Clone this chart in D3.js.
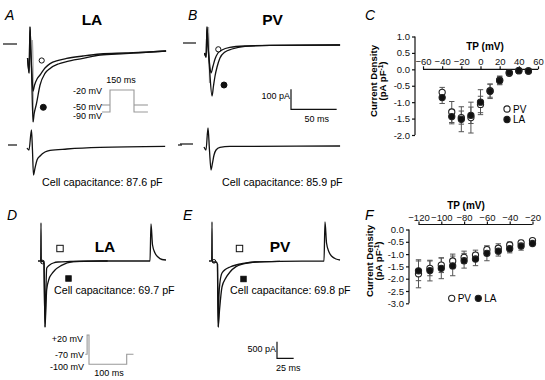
<!DOCTYPE html>
<html>
<head>
<meta charset="utf-8">
<script src="https://cdn.jsdelivr.net/npm/d3@7"></script>
<style>
  body { margin: 0; background: #fff; }
  svg { display: block; font-family: "Liberation Sans", Arial, sans-serif; }
  .narrow { font-family: "Liberation Sans Narrow", "Liberation Sans", Arial, sans-serif; }
</style>
</head>
<body>
<div id="container"></div>
<script>
/* CONSTANTS AND GLOBALS */
const width = 545, height = 380;

/* DATA */
// panel C: I-V, step potential (mV) vs current density (pA/pF)
const tpC = [-40, -30, -20, -10, 0, 10, 20, 30, 40, 50];
const pvC = [-0.70, -1.30, -1.47, -1.47, -1.07, -0.65, -0.33, -0.12, -0.04, -0.05];
const pvCsem = [0.15, 0.32, 0.20, 0.47, 0.25, 0.20, 0.12, 0.05, 0.03, 0.03];
const laC = [-0.86, -1.44, -1.52, -1.40, -1.00, -0.67, -0.34, -0.10, -0.04, -0.05];
const laCsem = [0.18, 0.22, 0.38, 0.25, 0.38, 0.22, 0.13, 0.05, 0.03, 0.03];
const ticksCx = [-60, -40, -20, 0, 20, 40, 60];
const ticksCy = [1.0, 0.5, 0.0, -0.5, -1.0, -1.5, -2.0];

// panel F
const tpF = [-120, -110, -100, -90, -80, -70, -60, -50, -40, -30, -20];
const pvF = [-1.80, -1.58, -1.45, -1.28, -1.13, -1.04, -0.82, -0.76, -0.63, -0.54, -0.45];
const pvFsem = [0.57, 0.30, 0.30, 0.28, 0.25, 0.20, 0.15, 0.18, 0.12, 0.10, 0.05];
const laF = [-1.68, -1.67, -1.58, -1.48, -1.27, -1.20, -0.97, -0.88, -0.78, -0.67, -0.57];
const laFsem = [0.40, 0.42, 0.42, 0.40, 0.30, 0.27, 0.30, 0.20, 0.17, 0.17, 0.06];
const ticksFx = [-120, -100, -80, -60, -40, -20];
const ticksFy = [0.0, -0.5, -1.0, -1.5, -2.0, -2.5, -3.0];

// current traces, [time (ms), current (pA)]
const traceAopen = [[-2.7,-70],[-1,-145],[0,85],[0.9,-30],[1.8,-120],[3.3,-235],[5,-205],[7.7,-175],[11,-155],[16.4,-120],[22,-98],[31,-82],[40,-72],[58,-60],[77,-50],[104,-45],[131,-40],[149,-35]];
const traceAfill = [[-2.7,-70],[-1,-145],[0,85],[0.9,-30],[1.8,-150],[3.3,-390],[4.5,-350],[7,-300],[11,-205],[16.4,-147],[22,-122],[31,-100],[40,-88],[58,-72],[77,-55],[104,-48],[131,-40],[149,-35]];
const traceAgray = [[2.5,20],[3.3,-100],[3.6,-390]];
const traceAdiff = [[-3.3,-15],[-1.1,-25],[1.6,75],[2.7,-25],[3.8,-150],[5.5,-115],[7.7,-75],[11,-55],[16.4,-35],[22,-27],[40.5,-20],[76.7,-12],[148,-7]];
const traceBopen = [[-2.7,-50],[-1,-70],[0,80],[1.2,-20],[2.5,-90],[4.4,-150],[6.6,-115],[8.8,-80],[12,-50],[16.4,-35],[25,-22],[41.6,-15],[69,-12],[145.7,-10]];
const traceBfill = [[-2.7,-50],[-1,-70],[0,80],[1.2,-20],[2.8,-130],[5.5,-265],[7.1,-215],[8.8,-165],[11,-120],[14.2,-75],[19.7,-45],[27.4,-30],[41.6,-17],[69,-12],[145.7,-10]];
const traceBgray = [[1.6,80],[2.4,-60],[2.8,-200]];
const traceBdiff = [[-3.3,-15],[-1.1,-30],[1.1,80],[2.7,-30],[4.4,-130],[6,-95],[7.7,-55],[9.9,-30],[14.2,-17],[25,-12],[145.7,-10]];
const traceDfast = [[-4.5,-30],[-0.5,-30],[0,1110],[0.5,-60],[2.2,-30],[4.5,-90],[6,-2010],[7.5,-800],[8.5,-250],[10.5,-190],[13.5,-140],[18.5,-90],[25.5,-60],[43.5,-45],[88.5,-30],[163.5,-30],[165,1080],[167.3,450],[171,210],[175.5,90],[181.5,15],[187.5,0]];
const traceDslow = [[4.5,-90],[6,-2010],[7.5,-1350],[8.5,-900],[12,-570],[16,-420],[21,-300],[30,-170],[48.5,-50],[70,-35],[100,-30]];
const traceEfast = [[-4.5,-30],[-0.5,-30],[0,1140],[0.5,-60],[6,-60],[8.2,-120],[9.3,-2010],[10.5,-1050],[12,-660],[15,-390],[21,-270],[27,-210],[36,-150],[46.5,-105],[64.5,-60],[102,-40],[168,-30],[169.5,1140],[171.8,510],[175.5,240],[180,105],[186,30],[192,0]];
const traceEslow = [[8.2,-120],[9.3,-2010],[11.3,-1500],[15,-810],[21,-530],[27,-360],[36,-200],[46.5,-120],[64.5,-60],[102,-40]];

// voltage protocols, [time (ms), mV]
const protoA = [[-50,-90],[0,-90],[0,-20],[150,-20],[150,-90],[237,-90]];
const protoApre = [[[-50,-50],[0,-50]], [[150,-50],[237,-50]]];
const protoD = [[-10,-70],[-5,-70],[-5,20],[0,20],[0,-100],[100,-100],[100,-70],[118,-70]];

/* HTML ELEMENTS */
const svg = d3.select("#container")
  .append("svg")
  .attr("width", width)
  .attr("height", height);

const fmt = d => d.toFixed(1);

function panelLetter(x, y, t) {
  svg.append("text").attr("x", x).attr("y", y)
    .attr("font-size", 14).attr("font-style", "italic").text(t);
}
function boldTitle(x, y, t) {
  svg.append("text").attr("x", x).attr("y", y).attr("text-anchor", "middle")
    .attr("font-size", 15.5).attr("font-weight", "bold").text(t);
}
function plainText(x, y, t, size, anchor, cls) {
  svg.append("text").attr("x", x).attr("y", y).attr("class", cls || null)
    .attr("text-anchor", anchor || "start").attr("font-size", size).text(t);
}

/* TRACES */
function drawTrace(data, xs, ys, color) {
  svg.append("path")
    .datum(data)
    .attr("fill", "none")
    .attr("stroke", color || "#111")
    .attr("stroke-width", 1.3)
    .attr("stroke-linejoin", "round")
    .attr("d", d3.line().x(d => xs(d[0])).y(d => ys(d[1])).curve(d3.curveMonotoneX));
}
function zeroMark(ys, x1, x2) {
  svg.append("line").attr("x1", x1).attr("x2", x2)
    .attr("y1", ys(0)).attr("y2", ys(0))
    .attr("stroke", "#111").attr("stroke-width", 1.2);
}

// A
const xA = d3.scaleLinear().domain([0, 150]).range([30, 167]);
const yA1 = d3.scaleLinear().domain([0, -100]).range([44, 64]);
const yA2 = d3.scaleLinear().domain([0, -100]).range([145, 165]);
zeroMark(yA1, 3, 17);
zeroMark(yA2, 8, 17);
zeroMark(yA2, 178, 182);
drawTrace(traceAgray, xA, yA1, "#aaa");
drawTrace(traceAopen, xA, yA1);
drawTrace(traceAfill, xA, yA1);
drawTrace(traceAdiff, xA, yA2);

// B
const xB = d3.scaleLinear().domain([0, 150]).range([207, 344]);
const yB1 = d3.scaleLinear().domain([0, -100]).range([43, 63]);
const yB2 = d3.scaleLinear().domain([0, -100]).range([144, 164]);
zeroMark(yB1, 183, 196);
zeroMark(yB2, 180, 193);
drawTrace(traceBgray, xB, yB1, "#aaa");
drawTrace(traceBopen, xB, yB1);
drawTrace(traceBfill, xB, yB1);
drawTrace(traceBdiff, xB, yB2);

// D, E
const xD = d3.scaleLinear().domain([0, 150]).range([41, 141]);
const xE = d3.scaleLinear().domain([0, 150]).range([212, 312]);
const yDE = d3.scaleLinear().domain([0, -1500]).range([260, 310]);
drawTrace(traceDfast, xD, yDE);
drawTrace(traceDslow, xD, yDE);
drawTrace(traceEfast, xE, yDE);
drawTrace(traceEslow, xE, yDE);

// little loops at the step
[[xD(2.2), yDE(-60)], [xE(3), yDE(-40)]].forEach(p => {
  svg.append("circle").attr("cx", p[0]).attr("cy", p[1]).attr("r", 1.8)
    .attr("fill", "none").attr("stroke", "#111").attr("stroke-width", 1);
});

// trace symbols
function sym(shape, filled, cx, cy, s) {
  const el = shape === "circle"
    ? svg.append("circle").attr("cx", cx).attr("cy", cy).attr("r", s)
    : svg.append("rect").attr("x", cx - s).attr("y", cy - s).attr("width", 2 * s).attr("height", 2 * s);
  el.attr("fill", filled ? "#111" : "#fff").attr("stroke", "#111").attr("stroke-width", 1);
}
sym("circle", false, 41.7, 60.5, 2.6);
sym("circle", true, 43.3, 107.3, 3);
sym("circle", false, 218.3, 49.3, 2.6);
sym("circle", true, 224, 85, 3);
sym("rect", false, 60, 248.5, 3.2);
sym("rect", true, 68.5, 278.5, 2.7);
sym("rect", false, 239.5, 248.5, 3.2);
sym("rect", true, 243.5, 279, 2.7);

/* PROTOCOLS */
const xPA = d3.scaleLinear().domain([0, 150]).range([110, 134]);
const yPA = d3.scaleLinear().domain([-90, -50, -20]).range([112, 105, 90]);
const protoLineA = d3.line().x(d => xPA(d[0])).y(d => yPA(d[1]));
svg.append("path").datum(protoA).attr("d", protoLineA)
  .attr("fill", "none").attr("stroke", "#999").attr("stroke-width", 1.1);
protoApre.forEach(seg => svg.append("path").datum(seg).attr("d", protoLineA)
  .attr("fill", "none").attr("stroke", "#999").attr("stroke-width", 1.1));
plainText(121, 83, "150 ms", 9, "middle");
plainText(102, 94, "-20 mV", 9, "end");
plainText(102, 110, "-50 mV", 9, "end");
plainText(102, 118.5, "-90 mV", 9, "end");

const xPD = d3.scaleLinear().domain([0, 100]).range([89, 126.7]);
const yPD = d3.scaleLinear().domain([-100, -70, 20]).range([364.3, 354.3, 335]);
svg.append("path").datum(protoD)
  .attr("d", d3.line().x(d => xPD(d[0])).y(d => yPD(d[1])))
  .attr("fill", "none").attr("stroke", "#999").attr("stroke-width", 1.1);
plainText(83, 341.5, "+20 mV", 9, "end");
plainText(84, 358, "-70 mV", 9, "end");
plainText(84, 369.5, "-100 mV", 9, "end");
plainText(109, 376, "100 ms", 9, "middle");

/* SCALE BARS */
function scaleBar(x0, y0, xs, ys, tLen, iLen, iText, tText) {
  const h = ys(-iLen) - ys(0), w = xs(tLen) - xs(0);
  svg.append("path")
    .attr("d", `M${x0},${y0} V${y0 + h} H${x0 + w}`)
    .attr("fill", "none").attr("stroke", "#111").attr("stroke-width", 1.2);
  plainText(x0 - 1, y0 + 10, iText, 9, "end");
  plainText(x0 + w / 2 + 3, y0 + h + 12.5, tText, 9, "middle");
}
scaleBar(291, 89.3, xB, yB1, 50, 100, "100 pA", "50 ms");
scaleBar(277, 341.7, xE, yDE, 25, 500, "500 pA", "25 ms");

/* TEXT */
panelLetter(5, 20, "A");
panelLetter(188, 19.5, "B");
panelLetter(365, 20, "C");
panelLetter(7, 220, "D");
panelLetter(183, 220, "E");
panelLetter(365, 220, "F");
boldTitle(92, 25, "LA");
boldTitle(272.5, 25, "PV");
boldTitle(105, 252, "LA");
boldTitle(280, 252, "PV");
plainText(42, 186, "Cell capacitance: 87.6 pF", 10.7);
plainText(222, 186, "Cell capacitance: 85.9 pF", 10.7);
plainText(54, 294, "Cell capacitance: 69.7 pF", 10.7);
plainText(230, 294, "Cell capacitance: 69.8 pF", 10.7);

/* I-V PLOTS */
function ivPlot(o) {
  const g = svg.append("g");
  const xAxis = d3.axisTop(o.x).tickValues(o.xt).tickSize(3).tickSizeOuter(0).tickPadding(o.xpad);
  const yAxis = d3.axisLeft(o.y).tickValues(o.yt).tickFormat(fmt).tickSize(3).tickSizeOuter(0).tickPadding(2);

  const gx = g.append("g").attr("transform", `translate(0,${o.xAt})`).call(xAxis);
  const gy = g.append("g").attr("transform", `translate(${o.yAt},0)`).call(yAxis);
  [gx, gy].forEach(a => {
    a.attr("class", "narrow").attr("font-family", null).attr("font-size", 9.5);
    a.selectAll("path, line").attr("stroke", "#111").attr("stroke-width", 1.2);
    a.selectAll("text").attr("fill", "#111");
  });
  gx.select(".domain").attr("d", `M${o.x.range()[0]},0H${o.x.range()[1]}`);
  gy.select(".domain").attr("d", `M0,${o.y.range()[0]}V${o.y.range()[1]}`);

  g.append("text").attr("class", "narrow")
    .attr("x", o.tpX).attr("y", o.tpY).attr("text-anchor", "middle")
    .attr("font-size", 10).attr("font-weight", "bold").text("TP (mV)");

  const lab = g.append("g").attr("transform", `translate(${o.labX},${o.labY}) rotate(-90)`)
    .attr("class", "narrow").attr("font-size", 9.6).attr("font-weight", "bold").attr("text-anchor", "middle");
  lab.append("text").attr("y", 0).text("Current Density");
  const l2 = lab.append("text").attr("y", 9.6);
  l2.append("tspan").text("(pA pF");
  l2.append("tspan").attr("font-size", 6.5).attr("dy", -3.5).text("-1");
  l2.append("tspan").attr("dy", 3.5).text(")");

  const series = [
    {v: o.pv, e: o.pvE, fill: "#fff"},
    {v: o.la, e: o.laE, fill: "#111"}
  ];
  series.forEach(s => {
    const pts = o.tp.map((t, i) => ({t, v: s.v[i], e: s.e[i]}));
    const eb = g.append("g").attr("stroke", "#555").attr("stroke-width", 1);
    eb.selectAll("line.v").data(pts).join("line").attr("class", "v")
      .attr("x1", d => o.x(d.t)).attr("x2", d => o.x(d.t))
      .attr("y1", d => o.y(d.v + d.e)).attr("y2", d => o.y(d.v - d.e));
    eb.selectAll("line.t").data(pts).join("line").attr("class", "t")
      .attr("x1", d => o.x(d.t) - 2.7).attr("x2", d => o.x(d.t) + 2.7)
      .attr("y1", d => o.y(d.v + d.e)).attr("y2", d => o.y(d.v + d.e));
    eb.selectAll("line.b").data(pts).join("line").attr("class", "b")
      .attr("x1", d => o.x(d.t) - 2.7).attr("x2", d => o.x(d.t) + 2.7)
      .attr("y1", d => o.y(d.v - d.e)).attr("y2", d => o.y(d.v - d.e));
  });
  series.forEach(s => {
    g.append("g").selectAll("circle").data(o.tp.map((t, i) => ({t, v: s.v[i]})))
      .join("circle")
      .attr("cx", d => o.x(d.t)).attr("cy", d => o.y(d.v)).attr("r", 3.1)
      .attr("fill", s.fill).attr("stroke", "#222").attr("stroke-width", 1.1);
  });

  // legend
  o.legend.forEach(l => {
    g.append("circle").attr("cx", l.cx).attr("cy", l.cy).attr("r", 3.1)
      .attr("fill", l.fill).attr("stroke", "#222").attr("stroke-width", 1.1);
    g.append("text").attr("class", "narrow").attr("x", l.cx + 6).attr("y", l.cy + 3.5)
      .attr("font-size", 10).text(l.name);
  });
}

ivPlot({
  x: d3.scaleLinear().domain([-60, 60]).range([423, 538]),
  y: d3.scaleLinear().domain([-2, 1]).range([135, 36.5]),
  xt: ticksCx, yt: ticksCy, xpad: 1.5,
  xAt: 69.3, yAt: 415,
  tp: tpC, pv: pvC, pvE: pvCsem, la: laC, laE: laCsem,
  tpX: 485, tpY: 50, labX: 376.5, labY: 81,
  legend: [{cx: 507, cy: 109, fill: "#fff", name: "PV"}, {cx: 507, cy: 119.5, fill: "#111", name: "LA"}]
});

ivPlot({
  x: d3.scaleLinear().domain([-120, -20]).range([418.5, 532.5]),
  y: d3.scaleLinear().domain([-3, 0]).range([303.3, 229.5]),
  xt: ticksFx, yt: ticksFy, xpad: 0.5,
  xAt: 224.5, yAt: 409,
  tp: tpF, pv: pvF, pvE: pvFsem, la: laF, laE: laFsem,
  tpX: 466, tpY: 209, labX: 372.5, labY: 261,
  legend: [{cx: 451.7, cy: 298.3, fill: "#fff", name: "PV"}, {cx: 478.3, cy: 298.3, fill: "#111", name: "LA"}]
});
</script>
</body>
</html>
